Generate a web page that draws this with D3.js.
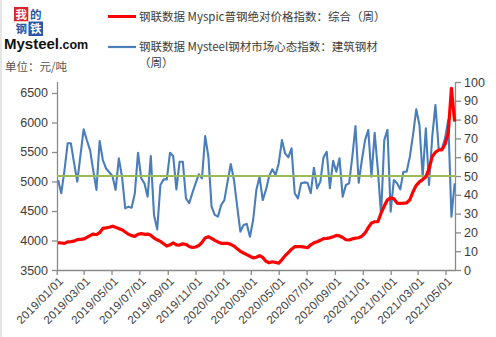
<!DOCTYPE html>
<html><head><meta charset="utf-8">
<script src="https://cdn.jsdelivr.net/npm/d3@7"></script>
<style>html,body{margin:0;padding:0;background:#fff;} svg{display:block;}</style>
</head><body><svg id="c" width="496" height="337"></svg>
<script>
// ---- data ----
const firstWeek = "2019-01-04";   // weekly observations (Fridays)
const weekCount = 125;
// 钢联数据 Myspic普钢绝对价格指数：综合（周）  (元/吨, left axis)
const priceIndex = [
 3963,3957,3952,3977,3980,3989,4014,4020,4026,4054,
 4083,4109,4098,4132,4205,4213,4225,4243,4224,4201,
 4183,4145,4106,4083,4069,4106,4116,4105,4108,4088,
 4041,4012,3985,3946,3906,3926,3958,3925,3923,3943,
 3933,3898,3882,3890,3914,3968,4044,4064,4037,4003,
 3976,3952,3952,3952,3934,3905,3861,3817,3788,3761,
 3733,3706,3717,3743,3714,3647,3622,3640,3628,3615,
 3676,3742,3796,3852,3895,3895,3895,3889,3878,3927,
 3960,3978,4003,4033,4037,4045,4064,4086,4077,4050,
 4013,4008,4027,4040,4047,4075,4127,4217,4298,4318,
 4318,4463,4584,4690,4724,4706,4634,4630,4632,4639,
 4691,4827,4935,4994,5032,5075,5217,5422,5495,5534,
 5534,5630,5820,6580,6013
];
// 钢联数据 Mysteel钢材市场心态指数：建筑钢材（周）  (right axis)
const sentimentIndex = [
 47.9,40.8,53,67.4,67.4,57,47,61,74.8,69,
 63.8,53,42.6,68.6,58.5,54,52,50,42.6,59.4,
 49.6,32.8,33.7,33.1,40.8,62.4,48.8,46.1,39,60.6,
 29.3,21.6,45.2,48.2,48.2,62.4,60.6,42.9,57.6,57.6,
 38.1,35.5,41,46.1,50.9,48.8,71.3,60.3,33.7,29.3,
 28.4,34.6,37.2,47,56.4,47.9,34,20.4,23.9,24.5,
 17.7,26.6,42.6,49.6,37.2,42.6,50,53.6,50.5,56.7,
 69.1,62,59.9,64.7,40.8,38.1,46.1,46.6,46.4,40.8,
 54.4,43.5,47,59.9,62.9,43.5,58.1,52.3,59.4,39,
 45.2,46.1,60,76.6,46.4,58.5,69.1,74.5,49.6,73,
 53.2,29.3,69.1,74.5,31,47.9,46.1,42.9,52.3,52.3,
 60.3,72,85.5,77.1,49.6,75.4,45.2,70.9,87.8,64.7,
 64.2,70,79.8,28.4,46.1
];
const benchmarkLevel = 50;
const leftTicks = [3500,4000,4500,5000,5500,6000,6500];
const rightTicks = [0,10,20,30,40,50,60,70,80,90,100];
const xTickLabels = ["2019/01/01","2019/03/01","2019/05/01","2019/07/01","2019/09/01","2019/11/01",
  "2020/01/01","2020/03/01","2020/05/01","2020/07/01","2020/09/01","2020/11/01",
  "2021/01/01","2021/03/01","2021/05/01"];
const legendNames = ["钢联数据 Myspic普钢绝对价格指数：综合（周）","钢联数据 Mysteel钢材市场心态指数：建筑钢材","（周）"];
const unitLabel = "单位：元/吨";
const logoChars = ["我","的","钢","铁"];

// ---- drawing ----
const svg = d3.select("#c");
const parse = d3.timeParse("%Y/%m/%d");
const start = d3.timeParse("%Y-%m-%d")(firstWeek);
const weeks = d3.range(weekCount).map(i => d3.timeDay.offset(start, 7 * i));
const tickDates = xTickLabels.map(parse);

const L = 57, R = 456, T = 82, B = 270;
const x = d3.scaleTime().domain([parse("2019/01/01"), parse("2021/05/24")]).range([L - 0.3, R]);
const yL = d3.scaleLinear().domain([3500, 6686]).range([B, T]);
const yR = d3.scaleLinear().domain([0, 100]).range([B, T]);

const axisColor = "#8a8a8a", textColor = "#3c3c3c";
const sansFont = "'Liberation Sans', Arial, sans-serif";
const cjkFont = "'Noto Sans CJK SC', sans-serif";

// light left border as in reference
svg.append("line").attr("x1",1).attr("x2",1).attr("y1",0).attr("y2",337).attr("stroke","#e6e6e6").attr("stroke-width",2);

// left axis
const gL = svg.append("g").attr("transform", `translate(${L},0)`)
  .call(d3.axisLeft(yL).tickValues(leftTicks).tickFormat(d3.format("d")).tickSize(5).tickSizeOuter(0).tickPadding(4));
// right axis
const gR = svg.append("g").attr("transform", `translate(${R},0)`)
  .call(d3.axisRight(yR).tickValues(rightTicks).tickFormat(d3.format("d")).tickSize(5).tickSizeOuter(0).tickPadding(3));
// bottom axis
const gX = svg.append("g").attr("transform", `translate(0,${B})`)
  .call(d3.axisBottom(x).tickValues(tickDates).tickSize(5).tickSizeOuter(0).tickFormat(d3.timeFormat("%Y/%m/%d")));

[gL, gR, gX].forEach(g => {
  g.selectAll("path.domain").attr("stroke", axisColor).attr("stroke-width", 1.3);
  g.selectAll(".tick line").attr("stroke", axisColor).attr("stroke-width", 1.3);
  g.selectAll("text").attr("fill", textColor).style("font-family", sansFont).style("font-size", "12.5px");
});
gL.select("path.domain").attr("d", `M0.5,${T}V${B}`);
gR.select("path.domain").attr("d", `M-0.5,${T}V${B}`);
gX.select("path.domain").attr("d", `M${L},0.5H${R}`);
gX.selectAll(".tick text")
  .attr("text-anchor", "end")
  .attr("transform", "translate(4,9) rotate(-45)")
  .attr("dx", 0).attr("dy", "0.35em").attr("y", 0).attr("x", 0)
  .style("font-size", "11.5px").style("letter-spacing", "0.3px");

// sentiment line
const lineBlue = d3.line().x((d, i) => x(weeks[i])).y(d => yR(d));
svg.append("path").datum(sentimentIndex).attr("d", lineBlue)
  .attr("fill", "none").attr("stroke", "#4a7ebb").attr("stroke-width", 2.1).attr("stroke-linejoin", "round");

// benchmark line (50 on right axis)
svg.append("line").attr("x1", L).attr("x2", R).attr("y1", yR(benchmarkLevel)).attr("y2", yR(benchmarkLevel))
  .attr("stroke", "#9bbb59").attr("stroke-width", 2.2);

// price line
const lineRed = d3.line().x((d, i) => x(weeks[i])).y(d => yL(d));
svg.append("path").datum(priceIndex).attr("d", lineRed)
  .attr("fill", "none").attr("stroke", "#ff0000").attr("stroke-width", 3.2).attr("stroke-linejoin", "round");

// legend
const leg = svg.append("g");
leg.append("line").attr("x1",108).attr("x2",136).attr("y1",16.5).attr("y2",16.5).attr("stroke","#ff0000").attr("stroke-width",3);
leg.append("line").attr("x1",108).attr("x2",136).attr("y1",47).attr("y2",47).attr("stroke","#4a7ebb").attr("stroke-width",2.2);
leg.append("text").attr("x",139).attr("y",21).text(legendNames[0]);
leg.append("text").attr("x",139).attr("y",51).text(legendNames[1]);
leg.append("text").attr("x",139).attr("y",66.5).text(legendNames[2]);
leg.selectAll("text").attr("fill", textColor).style("font-family", cjkFont).style("font-size","11.5px");

// logo
const logo = svg.append("g");
const cellStyle = [
  {bg:"#d7262b", fg:"#ffffff"},
  {bg:"#ffffff", fg:"#2a56a6"},
  {bg:"#ffffff", fg:"#2a56a6"},
  {bg:"#2a56a6", fg:"#ffffff"}
];
logoChars.forEach((c, i) => {
  const cx = 14 + (i % 2) * 14.5, cy = 7 + Math.floor(i / 2) * 14.5;
  logo.append("rect").attr("x", cx).attr("y", cy).attr("width", 14.5).attr("height", 14.5).attr("fill", cellStyle[i].bg);
  logo.append("text").attr("x", cx + 7.25).attr("y", cy + 11.6).attr("text-anchor","middle")
    .attr("fill", cellStyle[i].fg).style("font-family", cjkFont).style("font-weight","bold").style("font-size","11.5px").text(c);
});
const mt = logo.append("text").attr("x", 4).attr("y", 49).style("font-family", sansFont).attr("fill", "#111");
mt.append("tspan").style("font-size","15px").style("font-weight","bold").text("Mysteel");
mt.append("tspan").style("font-size","12.5px").style("font-weight","bold").text(".com");

svg.append("text").attr("x", 5).attr("y", 71).attr("fill", "#555")
  .style("font-family", cjkFont).style("font-size","11.5px").text(unitLabel);
</script>
</body></html>
